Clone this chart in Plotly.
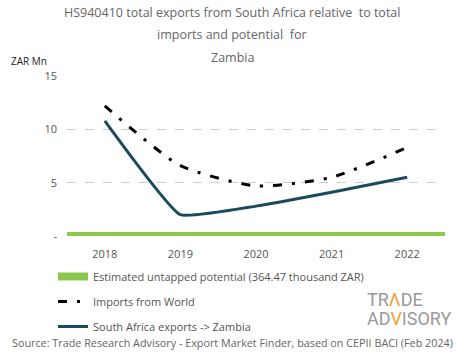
import plotly.graph_objects as go

years = ["2018", "2019", "2020", "2021", "2022"]
exports_za = [10.8, 2.0, 2.8, 4.1, 5.5]
imports_world = [12.2, 6.6, 4.7, 5.5, 8.3]
untapped = [0.364, 0.364, 0.364, 0.364, 0.364]
ytick_vals = [0, 5, 10, 15]
ytick_text = ["-", "5", "10", "15"]
title_lines = ["HS940410 total exports from South Africa relative  to total",
               "imports and potential  for", "Zambia"]

font_main = "Open Sans"
gray = "#666666"
W, H = 465, 359
T, B, L, R = 76, 123, 67, 20
PH = H - T - B


def py(pix):  # pixel y from top -> paper coordinate
    return (H - B - pix) / PH


def px(pix):
    return (pix - L) / (W - L - R)


fig = go.Figure()

fig.add_trace(go.Bar(x=years, y=untapped, width=1, marker=dict(color="#8cc84b", line=dict(width=0)),
                     showlegend=False, hoverinfo="skip"))
fig.add_trace(go.Scatter(x=years, y=[None]*5, mode="lines", line=dict(color="#8cc84b", width=8),
                         name="Estimated untapped potential (364.47 thousand ZAR)", legendgroup="a"))
fig.add_trace(go.Scatter(x=years, y=imports_world, mode="lines",
                         line=dict(color="black", width=3, dash="9px,10px,3px,10px", shape="spline", smoothing=0.6),
                         name="Imports from World", legendgroup="b"))
fig.add_trace(go.Scatter(x=years, y=exports_za, mode="lines",
                         line=dict(color="#1b4a5e", width=3, shape="spline", smoothing=0.35),
                         name="South Africa exports -> Zambia", legendgroup="c"))

annots = []
for i, (t, yy) in enumerate(zip(title_lines, [12, 34, 57])):
    annots.append(dict(text=t, xref="paper", yref="paper", x=px(232), y=py(yy), xanchor="center",
                       yanchor="middle", showarrow=False, font=dict(family=font_main, size=12.5, color=gray)))
annots += [
    dict(text="ZAR Mn", xref="paper", yref="paper", x=px(9), y=py(61), xanchor="left", yanchor="middle",
         showarrow=False, font=dict(family=font_main, size=10, color="#222222")),
    dict(text="Source: Trade Research Advisory - Export Market Finder, based on CEPII BACI (Feb 2024)",
         xref="paper", yref="paper", x=px(232), y=py(342), xanchor="center", yanchor="middle",
         showarrow=False, font=dict(family=font_main, size=10.8, color=gray)),
    dict(text="TR<span style='color:#f0a030'>Λ</span>DE", xref="paper", yref="paper",
         x=px(365), y=py(299), xanchor="left", yanchor="middle", showarrow=False,
         font=dict(family="Roboto", size=18, color="#999999")),
    dict(text="AD<span style='color:#f0a030'>V</span>ISORY", xref="paper", yref="paper",
         x=px(365), y=py(318), xanchor="left", yanchor="middle", showarrow=False,
         font=dict(family="Roboto", size=18, color="#999999")),
]

fig.update_layout(
    width=W, height=H,
    margin=dict(l=L, r=R, t=T, b=B),
    plot_bgcolor="white", paper_bgcolor="white",
    bargap=0,
    font=dict(family=font_main, color=gray, size=11),
    legend=dict(orientation="v", x=px(53), xanchor="left", y=py(262), yanchor="top",
                font=dict(family=font_main, size=11, color="#555555"),
                tracegroupgap=6, itemwidth=30, bgcolor="rgba(0,0,0,0)"),
    xaxis=dict(type="category", showgrid=False, zeroline=False, showline=False, ticks="",
               tickfont=dict(size=11, color="#555555"), ticklabelstandoff=10),
    yaxis=dict(range=[0, 15], tickvals=ytick_vals, ticktext=ytick_text, showgrid=True,
               gridcolor="#d0d0d0", griddash="dash", gridwidth=1, zeroline=False, showline=False,
               tickfont=dict(size=11, color="#555555"), ticklabelstandoff=9),
    annotations=annots,
)

fig.write_html("out.html", config={"displayModeBar": False},
               post_script="document.body.style.margin='0';")
